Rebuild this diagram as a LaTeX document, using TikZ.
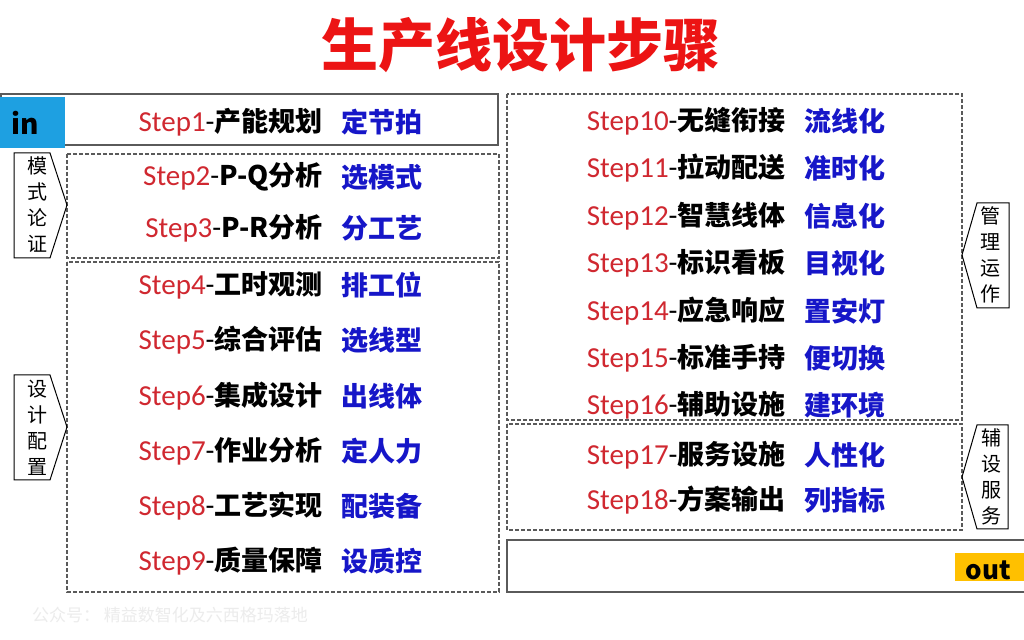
\documentclass[tikz,border=0pt]{standalone}
\usepackage{fontspec}
\setmainfont{Carlito}
\newfontfamily\cjk{Noto Sans CJK SC}
\definecolor{titlered}{RGB}{236,20,20}
\definecolor{stepred}{RGB}{208,40,48}
\definecolor{goalblue}{RGB}{22,22,200}
\definecolor{inblue}{RGB}{30,160,225}
\definecolor{outyellow}{RGB}{255,192,0}
\definecolor{framegray}{RGB}{90,90,90}
\usetikzlibrary{positioning}
\newcommand{\stepno}[1]{{\normalfont\fontsize{14.5}{16}\selectfont\textcolor{stepred}{#1}-}}

\begin{document}
\begin{tikzpicture}[x=0.5pt, y=-0.5pt,
  stepname/.style={inner sep=0pt, font=\cjk\bfseries\fontsize{13.5}{16}\selectfont, anchor=east},
  goal/.style={inner sep=0pt, font=\cjk\bfseries\fontsize{13.5}{16}\selectfont, text=goalblue},
  stage/.style={inner sep=0pt, font=\cjk\fontsize{10}{13}\selectfont, align=center},
  solidframe/.style={draw=framegray, line width=1pt},
  dashframe/.style={draw=framegray, dash pattern=on 2pt off 1pt, line width=0.6pt},
  stagebox/.style={draw=black, line width=0.5pt},
  tag/.style={font=\cjk\bfseries\fontsize{14}{16}\selectfont, inner sep=0pt}
]
  \clip (0,0) rectangle (1024,640);
  \fill[white] (0,0) rectangle (1024,640);

  \node[font=\cjk\bfseries\fontsize{28.5}{30}\selectfont, text=titlered] (title) at (521,45) {生产线设计步骤};

  % frames
  \draw[solidframe] (1,94) rectangle (498,145);
  \fill[inblue] (0,97) rectangle (65,148);
  \node[tag, anchor=base west] (in) at (11,135) {in};
  \draw[dashframe] (67,154) rectangle (499,258);
  \draw[dashframe] (67,262) rectangle (499,592);
  \draw[dashframe] (507,94) rectangle (962,420);
  \draw[dashframe] (507,424) rectangle (962,530);
  \draw[solidframe] (507,540) rectangle (1030,592);
  \fill[outyellow] (955,553) rectangle (1030,581);
  \node[tag, anchor=base, font=\cjk\bfseries\fontsize{13}{15}\selectfont] (out) at (988,580) {out};

  % stage labels
  \draw[stagebox] (14,153) -- (50,153) -- (67,205) -- (50,258) -- (14,258) -- cycle;
  \node[stage] (mode) at (37,205) {模\\式\\论\\证};
  \draw[stagebox] (14,375) -- (50,375) -- (67,427) -- (50,480) -- (14,480) -- cycle;
  \node[stage] (config) at (37,428) {设\\计\\配\\置};
  \draw[stagebox] (977,203) -- (1009,203) -- (1009,308) -- (977,308) -- (962,255) -- cycle;
  \node[stage] (manage) at (990,255) {管\\理\\运\\作};
  \draw[stagebox] (977,425) -- (1008,425) -- (1008,529) -- (977,529) -- (962,477) -- cycle;
  \node[stage] (assist) at (991,477) {辅\\设\\服\\务};

  % left steps
  \node[stepname] (n1) at (323,122) {\stepno{Step1}产能规划};
  \node[goal, right=9pt of n1] (g1) {定节拍};
  \node[stepname] (n2) at (323,177) {\stepno{Step2}P-Q分析};
  \node[goal, right=9pt of n2] (g2) {选模式};
  \node[stepname] (n3) at (323,228) {\stepno{Step3}P-R分析};
  \node[goal, right=9pt of n3] (g3) {分工艺};
  \node[stepname] (n4) at (323,285) {\stepno{Step4}工时观测};
  \node[goal, right=9pt of n4] (g4) {排工位};
  \node[stepname] (n5) at (323,340) {\stepno{Step5}综合评估};
  \node[goal, right=9pt of n5] (g5) {选线型};
  \node[stepname] (n6) at (323,396) {\stepno{Step6}集成设计};
  \node[goal, right=9pt of n6] (g6) {出线体};
  \node[stepname] (n7) at (323,451) {\stepno{Step7}作业分析};
  \node[goal, right=9pt of n7] (g7) {定人力};
  \node[stepname] (n8) at (323,506) {\stepno{Step8}工艺实现};
  \node[goal, right=9pt of n8] (g8) {配装备};
  \node[stepname] (n9) at (323,561) {\stepno{Step9}质量保障};
  \node[goal, right=9pt of n9] (g9) {设质控};

  % right steps
  \node[stepname] (n10) at (786,121) {\stepno{Step10}无缝衔接};
  \node[goal, right=9pt of n10] (g10) {流线化};
  \node[stepname] (n11) at (786,168) {\stepno{Step11}拉动配送};
  \node[goal, right=9pt of n11] (g11) {准时化};
  \node[stepname] (n12) at (786,216) {\stepno{Step12}智慧线体};
  \node[goal, right=9pt of n12] (g12) {信息化};
  \node[stepname] (n13) at (786,263) {\stepno{Step13}标识看板};
  \node[goal, right=9pt of n13] (g13) {目视化};
  \node[stepname] (n14) at (786,311) {\stepno{Step14}应急响应};
  \node[goal, right=9pt of n14] (g14) {置安灯};
  \node[stepname] (n15) at (786,358) {\stepno{Step15}标准手持};
  \node[goal, right=9pt of n15] (g15) {便切换};
  \node[stepname] (n16) at (786,405) {\stepno{Step16}辅助设施};
  \node[goal, right=9pt of n16] (g16) {建环境};
  \node[stepname] (n17) at (786,455) {\stepno{Step17}服务设施};
  \node[goal, right=9pt of n17] (g17) {人性化};
  \node[stepname] (n18) at (786,500) {\stepno{Step18}方案输出};
  \node[goal, right=9pt of n18] (g18) {列指标};

  \node[anchor=west, font=\cjk\fontsize{8.5}{10}\selectfont, text=gray!15] (mark) at (25,615) {公众号：\ 精益数智化及六西格玛落地};
\end{tikzpicture}
\end{document}
